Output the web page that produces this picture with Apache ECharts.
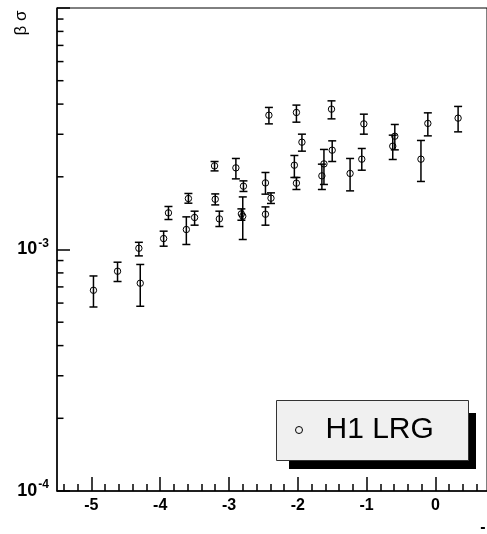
<!DOCTYPE html>
<html>
<head>
<meta charset="utf-8">
<script src="https://cdn.jsdelivr.net/npm/echarts@6/dist/echarts.min.js"></script>
<style>
  html, body { margin: 0; padding: 0; background: #fff; }
  #chart { width: 487px; height: 534px; }
</style>
</head>
<body>
<div id="chart"></div>
<script>
// H1 LRG measurements: position, central value and error-bar ends
const xVals = [-4.97, -4.62, -4.29, -4.31, -3.95, -3.88, -3.62, -3.59, -3.50, -3.21,
               -3.20, -3.14, -2.90, -2.79, -2.82, -2.80, -2.47, -2.47, -2.39, -2.42,
               -2.02, -1.94, -2.05, -2.02, -1.51, -1.50, -1.62, -1.65, -1.24, -1.07,
               -1.04, -0.59, -0.62, -0.11, -0.21, 0.33];
const yVals = [6.78e-4, 8.13e-4, 7.25e-4, 1.012e-3, 1.110e-3, 1.418e-3, 1.210e-3, 1.626e-3, 1.357e-3, 2.219e-3,
               1.615e-3, 1.339e-3, 2.178e-3, 1.829e-3, 1.404e-3, 1.374e-3, 1.887e-3, 1.400e-3, 1.631e-3, 3.598e-3,
               3.693e-3, 2.782e-3, 2.234e-3, 1.882e-3, 3.812e-3, 2.578e-3, 2.262e-3, 2.018e-3, 2.065e-3, 2.366e-3,
               3.313e-3, 2.945e-3, 2.678e-3, 3.327e-3, 2.366e-3, 3.499e-3];
const yHigh = [7.77e-4, 8.86e-4, 8.67e-4, 1.071e-3, 1.191e-3, 1.507e-3, 1.365e-3, 1.706e-3, 1.441e-3, 2.314e-3,
               1.699e-3, 1.441e-3, 2.382e-3, 1.924e-3, 1.473e-3, 1.651e-3, 2.084e-3, 1.501e-3, 1.716e-3, 3.875e-3,
               3.962e-3, 3.003e-3, 2.451e-3, 1.987e-3, 4.126e-3, 2.818e-3, 2.596e-3, 2.256e-3, 2.382e-3, 2.620e-3,
               3.634e-3, 3.294e-3, 2.975e-3, 3.680e-3, 2.828e-3, 3.912e-3];
const yLow  = [5.78e-4, 7.37e-4, 5.82e-4, 9.41e-4, 1.032e-3, 1.331e-3, 1.049e-3, 1.555e-3, 1.261e-3, 2.116e-3,
               1.530e-3, 1.245e-3, 1.961e-3, 1.739e-3, 1.322e-3, 1.100e-3, 1.695e-3, 1.261e-3, 1.551e-3, 3.313e-3,
               3.367e-3, 2.554e-3, 1.987e-3, 1.772e-3, 3.475e-3, 2.314e-3, 1.859e-3, 1.772e-3, 1.749e-3, 2.130e-3,
               3.003e-3, 2.586e-3, 2.359e-3, 2.955e-3, 1.913e-3, 3.070e-3];

// axis ranges and tick positions
const xMin = -5.5, xMax = 0.75;
const yMin = 1e-4, yMax = 1e-2;
const xMajorTicks = [-5, -4, -3, -2, -1, 0];
const xMinorTicks = [];
for (let i = -27; i <= 3; i++) {
  const v = +(i * 0.2).toFixed(1);
  if (Math.abs(v - Math.round(v)) > 1e-9) xMinorTicks.push(v);
}
const yMinorTicks = [2e-4, 3e-4, 4e-4, 5e-4, 6e-4, 7e-4, 8e-4, 9e-4,
                     2e-3, 3e-3, 4e-3, 5e-3, 6e-3, 7e-3, 8e-3, 9e-3];

const seriesName = 'H1 LRG';
const FONT = '"Liberation Sans", Arial, Helvetica, sans-serif';

const points = xVals.map((x, i) => [x, yVals[i], yHigh[i], yLow[i]]);

const chart = echarts.init(document.getElementById('chart'), null, { renderer: 'canvas' });

const lineStyle = { stroke: '#000', lineWidth: 1.5 };

chart.setOption({
  animation: false,
  backgroundColor: '#fff',
  grid: {
    left: 57, top: 8, width: 431, height: 483,
    show: true, borderColor: '#000', borderWidth: 1, backgroundColor: 'transparent'
  },
  xAxis: [{
    type: 'value', min: xMin, max: xMax,
    axisLine: { show: true, onZero: false, lineStyle: { color: '#000', width: 1.5 } },
    axisTick: { show: true, inside: true, length: 14, customValues: xMajorTicks,
                lineStyle: { color: '#000', width: 1.5 } },
    axisLabel: { show: true, customValues: xMajorTicks, margin: 7,
                 fontFamily: FONT, fontWeight: 'bold', fontSize: 16, color: '#000' },
    splitLine: { show: false }
  }, {
    type: 'value', min: xMin, max: xMax, position: 'bottom',
    axisLine: { show: false },
    axisTick: { show: true, inside: true, length: 7, customValues: xMinorTicks,
                lineStyle: { color: '#000', width: 1.5 } },
    axisLabel: { show: false },
    splitLine: { show: false }
  }],
  yAxis: {
    type: 'log', logBase: 10, min: yMin, max: yMax,
    axisLine: { show: true, onZero: false, lineStyle: { color: '#000', width: 1.5 } },
    axisTick: { show: true, inside: true, length: 13, lineStyle: { color: '#000', width: 1.5 } },
    axisLabel: {
      show: true, margin: 8,
      formatter: function (v) {
        const e = Math.round(Math.log10(v));
        if (e > -3) return '';
        return '{b|10}{s|' + e + '}';
      },
      rich: {
        b: { fontFamily: FONT, fontWeight: 'bold', fontSize: 18, lineHeight: 18, color: '#000' },
        s: { fontFamily: FONT, fontWeight: 'bold', fontSize: 12, lineHeight: 12, color: '#000',
             padding: [0, 0, 12, 1] }
      }
    },
    splitLine: { show: false }
  },
  legend: {
    left: 276, top: 400,
    orient: 'horizontal',
    selectedMode: false,
    itemWidth: 7, itemHeight: 7,
    padding: [15, 35, 16, 19],
    z: 20,
    textStyle: { fontFamily: FONT, fontSize: 30, lineHeight: 30, color: '#000', padding: [0, 0, 0, 18] },
    data: [{ name: seriesName, icon: 'circle',
             itemStyle: { color: 'rgba(0,0,0,0)', borderColor: '#000', borderWidth: 1 } }]
  },
  graphic: [
    // legend panel: drop shadow, then the light box on top
    { type: 'rect', z: 10, shape: { x: 289, y: 413, width: 187, height: 56 },
      style: { fill: '#000' } },
    { type: 'rect', z: 11, shape: { x: 276.5, y: 400.5, width: 192, height: 60 },
      style: { fill: '#f0f0f0', stroke: '#333', lineWidth: 1 } },
    { type: 'text', x: 21, y: 23, rotation: Math.PI / 2,
      style: { text: 'β σ', font: '17px ' + FONT, fill: '#000', align: 'center', verticalAlign: 'middle' } },
    { type: 'text', x: 483, y: 528,
      style: { text: '-', font: 'bold 16px ' + FONT, fill: '#000', align: 'center', verticalAlign: 'middle' } }
  ],
  series: [{
    name: seriesName,
    type: 'custom',
    xAxisIndex: 0, yAxisIndex: 0,
    itemStyle: { color: 'rgba(0,0,0,0)', borderColor: '#000' },
    encode: { x: 0, y: [1, 2, 3] },
    data: points,
    z: 5,
    renderItem: function (params, api) {
      const x = api.value(0);
      const c = api.coord([x, api.value(1)]);
      const hi = api.coord([x, api.value(2)]);
      const lo = api.coord([x, api.value(3)]);
      const cap = 4;
      return {
        type: 'group',
        children: [
          { type: 'line', shape: { x1: c[0], y1: hi[1], x2: c[0], y2: lo[1] }, style: lineStyle },
          { type: 'line', shape: { x1: c[0] - cap, y1: hi[1], x2: c[0] + cap, y2: hi[1] }, style: lineStyle },
          { type: 'line', shape: { x1: c[0] - cap, y1: lo[1], x2: c[0] + cap, y2: lo[1] }, style: lineStyle },
          { type: 'circle', shape: { cx: c[0], cy: c[1], r: 3.2 },
            style: { fill: 'none', stroke: '#000', lineWidth: 1 } }
        ]
      };
    }
  }, {
    // minor ticks of the logarithmic y axis (2..9 within each decade)
    name: 'yMinorTicks',
    type: 'custom',
    silent: true,
    xAxisIndex: 0, yAxisIndex: 0,
    encode: { x: 0, y: 1 },
    data: yMinorTicks.map(v => [xMin, v]),
    renderItem: function (params, api) {
      const p = api.coord([api.value(0), api.value(1)]);
      return { type: 'line', shape: { x1: p[0], y1: p[1], x2: p[0] + 6.5, y2: p[1] },
               style: lineStyle };
    }
  }]
});
</script>
</body>
</html>
